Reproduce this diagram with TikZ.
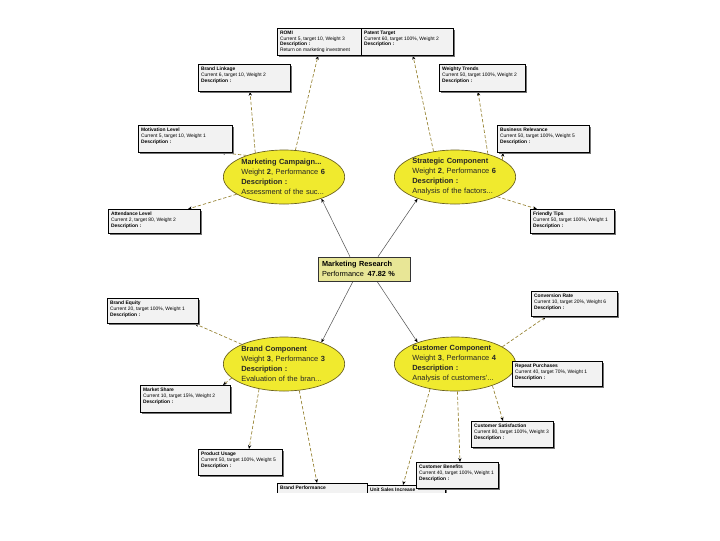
\documentclass[tikz,border=0pt]{standalone}
\usepackage{fontspec}
\setmainfont{Liberation Sans}
\usetikzlibrary{shapes.geometric,arrows.meta,calc,shadows,backgrounds}
\definecolor{ellfill}{RGB}{240,234,46}
\definecolor{elldraw}{RGB}{105,95,30}
\definecolor{crfill}{RGB}{232,230,150}
\definecolor{leafgray}{RGB}{242,242,242}
\definecolor{dashcol}{RGB}{150,130,50}
\definecolor{linkgray}{RGB}{85,85,85}
\tikzset{
  leafbox/.style={anchor=north west, draw=black, line width=0.5pt, fill=leafgray, inner sep=2pt,
    font=\fontsize{3.7}{4.3}\selectfont,
    drop shadow={shadow xshift=1.1pt, shadow yshift=-1.1pt, fill=black!55, opacity=1}},
  compell/.style={ellipse, draw=elldraw, line width=0.5pt, fill=ellfill, inner sep=0pt,
    minimum width=91pt, minimum height=40.5pt, text width=64pt, align=left,
    font=\fontsize{5.6}{7.5}\selectfont, text=black!85},
  rootbox/.style={rectangle, draw=black!80, line width=0.5pt, fill=crfill, inner xsep=3pt, inner ysep=1pt,
    minimum width=69pt, minimum height=18pt, text width=63pt, align=left,
    font=\fontsize{5.5}{7.5}\selectfont},
  dashlink/.style={draw=dashcol, line width=0.5pt, dash pattern=on 2.5pt off 1.5pt,
    -{Stealth[length=3pt,width=2.4pt,color=black]}},
  solidlink/.style={draw=linkgray, line width=0.4pt,
    -{Stealth[length=3pt,width=2.4pt,color=black]}}
}
\newcommand\leafnode[6]{\node[leafbox] (#1) at (#2,#3) {\parbox[t][\dimexpr 0.75pt*#5-4pt\relax][t]{\dimexpr 0.75pt*#4-4pt\relax}{\raggedright #6}};}
\begin{document}
\begin{tikzpicture}[x=0.75pt,y=-0.75pt]
\useasboundingbox (0,0) rectangle (720,540);

% root and components
\node[rootbox] (cr) at (364,269) {\textbf{Marketing Research}\\Performance\enspace\textbf{47.82 \%}};
\node[compell] (mc) at (284,177) {\textbf{Marketing Campaign...}\\Weight \textbf{2}, Performance \textbf{6}\\\textbf{Description :}\\Assessment of the suc...};
\node[compell] (sc) at (455,177) {\textbf{Strategic Component}\\Weight \textbf{2}, Performance \textbf{6}\\\textbf{Description :}\\Analysis of the factors...};
\node[compell] (bc) at (284,364) {\textbf{Brand Component}\\Weight \textbf{3}, Performance \textbf{3}\\\textbf{Description :}\\Evaluation of the bran...};
\node[compell] (cc) at (455,364) {\textbf{Customer Component}\\Weight \textbf{3}, Performance \textbf{4}\\\textbf{Description :}\\Analysis of customers'...};

% leaves
\leafnode{romi}{277}{28}{84}{27}{\textbf{ROMI}\\Current 5, target 10, Weight 3\\\textbf{Description :}\\Return on marketing investment}
\leafnode{patent}{361}{28}{92}{27}{\textbf{Patent Target}\\Current 60, target 100\%, Weight 2\\\textbf{Description :}}
\leafnode{brandlink}{198}{64}{92}{27}{\textbf{Brand Linkage}\\Current 6, target 10, Weight 2\\\textbf{Description :}}
\leafnode{weighty}{439}{64}{86}{27}{\textbf{Weighty Trends}\\Current 50, target 100\%, Weight 2\\\textbf{Description :}}
\leafnode{motiv}{138}{125}{94}{27}{\textbf{Motivation Level}\\Current 5, target 10, Weight 1\\\textbf{Description :}}
\leafnode{busrel}{497}{125}{92}{27}{\textbf{Business Relevance}\\Current 50, target 100\%, Weight 5\\\textbf{Description :}}
\leafnode{attend}{108}{209}{92}{24}{\textbf{Attendance Level}\\Current 2, target 80, Weight 2\\\textbf{Description :}}
\leafnode{friendly}{530}{209}{84}{24}{\textbf{Friendly Tips}\\Current 50, target 100\%, Weight 1\\\textbf{Description :}}
\leafnode{equity}{107}{298}{91}{25}{\textbf{Brand Equity}\\Current 20, target 100\%, Weight 1\\\textbf{Description :}}
\leafnode{conv}{531}{291}{86}{25}{\textbf{Conversion Rate}\\Current 10, target 20\%, Weight 6\\\textbf{Description :}}
\leafnode{repeat}{512}{361}{90}{25}{\textbf{Repeat Purchases}\\Current 40, target 70\%, Weight 1\\\textbf{Description :}}
\leafnode{market}{140}{385}{90}{27}{\textbf{Market Share}\\Current 10, target 15\%, Weight 2\\\textbf{Description :}}
\leafnode{usage}{198}{449}{84}{26}{\textbf{Product Usage}\\Current 50, target 100\%, Weight 5\\\textbf{Description :}}
\leafnode{custsat}{471}{421}{82}{26}{\textbf{Customer Satisfaction}\\Current 80, target 100\%, Weight 3\\\textbf{Description :}}
\begin{scope}
\clip (0,0) rectangle (720,492);
\leafnode{brandperf}{277}{483}{90}{25}{\textbf{Brand Performance}}
\leafnode{unitsales}{367}{485}{78}{25}{\textbf{Unit Sales Increase}}
\end{scope}
\leafnode{benefits}{416}{462}{82}{26}{\textbf{Customer Benefits}\\Current 40, target 100\%, Weight 1\\\textbf{Description :}}

\begin{scope}[on background layer]
% root to components
\draw[solidlink] ($(cr.north)+(-14,0)$) -- (mc.-30);
\draw[solidlink] ($(cr.north)+(14,0)$) -- (sc.210);
\draw[solidlink] ($(cr.south)+(-11,0)$) -- (bc.30);
\draw[solidlink] ($(cr.south)+(13,0)$) -- (cc.150);
% components to leaves
\draw[dashlink] (mc.67) -- ($(romi.south west)+(41,0)$);
\draw[dashlink] (mc.140) -- ($(brandlink.south west)+(52,0)$);
\draw[dashlink] (mc.150) -- ($(motiv.south west)+(83,0)$);
\draw[dashlink] (mc.200) -- ($(attend.north west)+(80,0)$);
\draw[dashlink] (sc.130) -- ($(patent.south west)+(52,0)$);
\draw[dashlink] (sc.35) -- ($(weighty.south west)+(39,0)$);
\draw[dashlink] (sc.20) -- ($(busrel.south west)+(6,0)$);
\draw[dashlink] (sc.-25) -- ($(friendly.north west)+(7,0)$);
\draw[dashlink] (bc.155) -- ($(equity.south east)+(-4,0)$);
\draw[dashlink] (bc.195) -- ($(market.north west)+(83,0)$);
\draw[dashlink] (bc.225) -- ($(usage.north west)+(51,0)$);
\draw[dashlink] (bc.300) -- ($(brandperf.north west)+(40,0)$);
\draw[dashlink] (cc.20) -- ($(conv.south west)+(15,0)$);
\draw[dashlink] (cc.0) -- (repeat.west);
\draw[dashlink] (cc.-30) -- ($(custsat.north west)+(32,0)$);
\draw[dashlink] (cc.275) -- ($(benefits.north west)+(44,0)$);
\draw[dashlink] (cc.225) -- ($(unitsales.north west)+(36,0)$);
\end{scope}
\end{tikzpicture}
\end{document}
